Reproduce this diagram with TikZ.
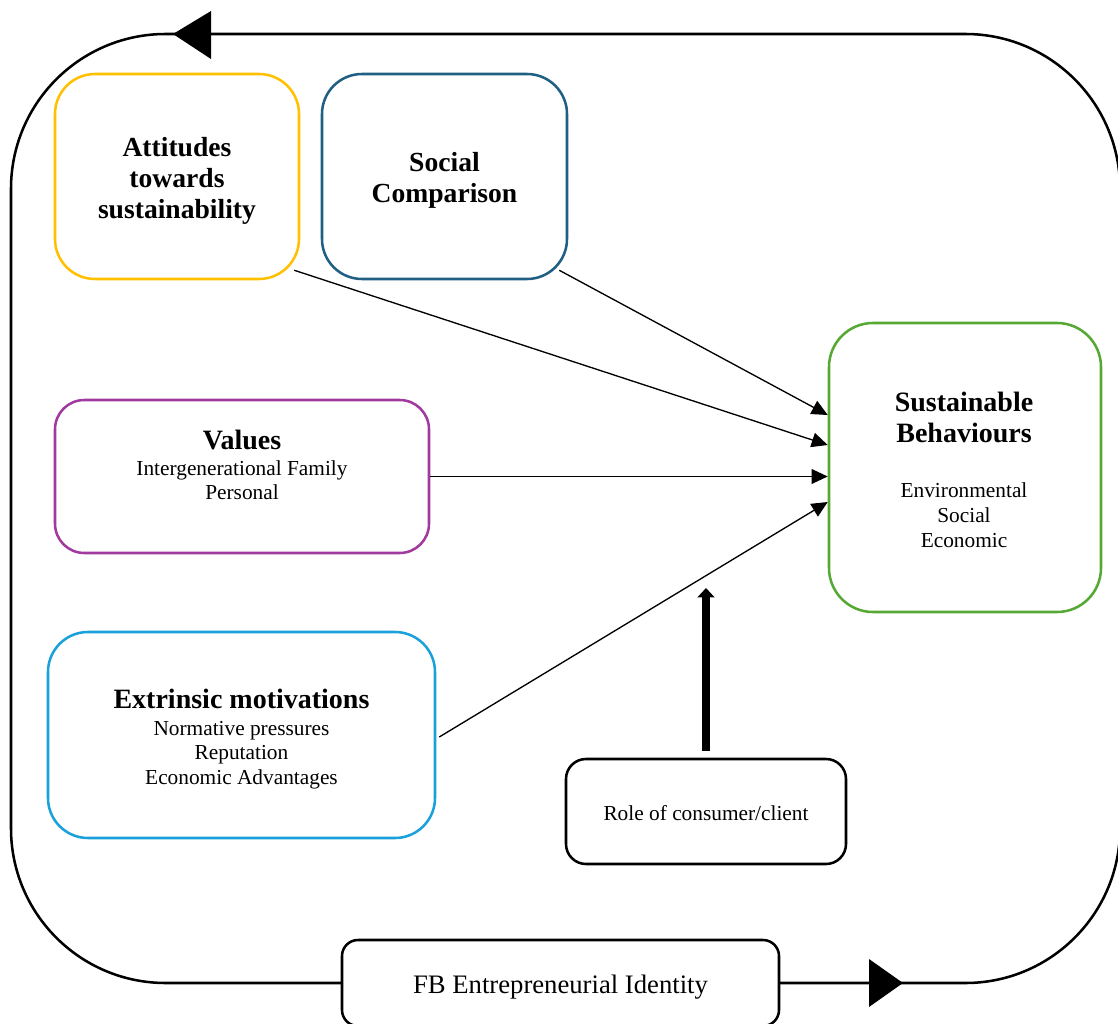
\documentclass[tikz,border=0pt]{standalone}
\usepackage{fontspec}
\setmainfont{Liberation Serif}
\usetikzlibrary{arrows.meta,calc}
\definecolor{cYellow}{HTML}{FFC000}
\definecolor{cTeal}{HTML}{1F5F83}
\definecolor{cPurple}{HTML}{A13A9F}
\definecolor{cSky}{HTML}{1AA0DA}
\definecolor{cGreen}{HTML}{55A834}
\begin{document}
\begin{tikzpicture}[x=0.75pt,y=-0.75pt,
  box/.style={draw=#1, line width=1.9pt, rounded corners=30pt, fill=white, inner sep=0pt},
  title/.style={font=\fontsize{20.7pt}{23.25pt}\selectfont\bfseries, align=center, inner sep=0pt},
  body/.style={font=\fontsize{16pt}{18.6pt}\selectfont, align=center, inner sep=0pt},
  conn/.style={line width=1pt, -{Triangle[length=12pt,width=11pt]}},
  loopline/.style={line width=1.9pt, rounded corners=116pt}]
\useasboundingbox (0,0) rectangle (1118,1024);

% outer feedback loop through the identity box
\draw[loopline] (779,983) -- (1120,983) -- (1120,34) -- (11,34) -- (11,983) -- (342,983);
\fill (211,11) -- (173,34) -- (211,59) -- cycle;
\fill (869,959) -- (903,983) -- (869,1007) -- cycle;

% boxes
\node[box=cYellow, minimum width=183pt, minimum height=153.75pt] (att) at (177,176.5) {};
\node[box=cTeal, minimum width=183.75pt, minimum height=153.75pt] (sc) at (444.5,176.5) {};
\node[box=cPurple, rounded corners=22pt, minimum width=280.5pt, minimum height=114.75pt] (vl) at (242,476.5) {};
\node[box=cSky, minimum width=290.25pt, minimum height=154.5pt] (em) at (241.5,735) {};
\node[box=cGreen, rounded corners=33pt, minimum width=204pt, minimum height=216.75pt] (sb) at (965,467.5) {};
\node[box=black, rounded corners=15pt, minimum width=210pt, minimum height=78.75pt] (rc) at (706,811.5) {};
\node[box=black, rounded corners=12pt, minimum width=327.75pt, minimum height=64.5pt] (fb) at (560.5,983) {};

% box texts
\node[title] (att-t) at (177,181) {Attitudes\\towards\\sustainability};
\node[title] (sc-t) at (444.5,180.5) {Social\\Comparison};
\node[body, font=\fontsize{16pt}{18pt}\selectfont] (vl-t) at (242,465) {{\bfseries\fontsize{21pt}{23.25pt}\selectfont Values}\\[1.2pt]Intergenerational Family\\Personal};
\node[body] (em-t) at (241.5,739) {{\bfseries\fontsize{21pt}{23.25pt}\selectfont Extrinsic motivations}\\[1.6pt]Normative pressures\\Reputation\\Economic Advantages};
\node[body] (sb-t) at (964,470) {{\bfseries\fontsize{21pt}{23.25pt}\selectfont Sustainable}\\[4.65pt]{\bfseries\fontsize{21pt}{23.25pt}\selectfont Behaviours}\\[22.6pt]Environmental\\Social\\Economic};
\node[body] (rc-t) at (706,813) {Role of consumer/client};
\node[body, font=\fontsize{20pt}{24pt}\selectfont] (fb-t) at (560.5,987) {FB Entrepreneurial Identity};

% influences on sustainable behaviours
\draw[conn] ($(sc.south east)+(-9,-10)$) -- ($(sb.west)+(0,-52.5)$);
\draw[conn] ($(att.south east)+(-6,-10)$) -- ($(sb.west)+(0,-22.5)$);
\draw[conn] (vl.east) -- (vl.east -| sb.west);
\draw[conn] ($(em.east)+(3,2)$) -- ($(sb.west)+(0,34.5)$);

% moderating role of the consumer
\coordinate (mod-tip) at (706,588);
\draw[line width=6.2pt, -{Triangle[length=7pt,width=12.5pt]}] ($(rc.north)+(0,-7)$) -- (mod-tip);
\end{tikzpicture}
\end{document}
